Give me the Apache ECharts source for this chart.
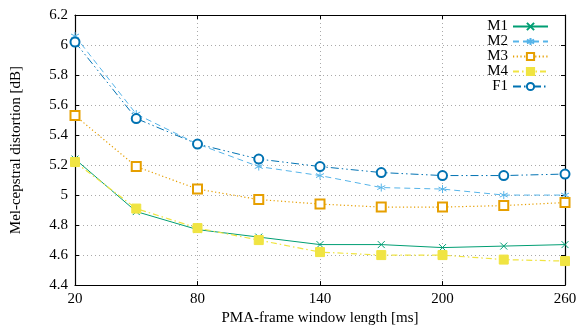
<!DOCTYPE html>
<html>
<head>
<meta charset="utf-8">
<script src="https://cdn.jsdelivr.net/npm/echarts@6/dist/echarts.min.js"></script>
<style>
  html, body { margin: 0; padding: 0; background: #fff; }
  #chart { width: 586px; height: 331px; }
</style>
</head>
<body>
<div id="chart"></div>
<script>
// window length [ms]
const windowLen = [20, 50, 80, 110, 140, 170, 200, 230, 260];

const m1 = [5.24, 4.89, 4.77, 4.72, 4.67, 4.67, 4.65, 4.66, 4.67];
const m2 = [6.06, 5.54, 5.34, 5.19, 5.13, 5.05, 5.04, 5.00, 5.00];
const m3 = [5.53, 5.19, 5.04, 4.97, 4.94, 4.92, 4.92, 4.93, 4.95];
const m4 = [5.22, 4.91, 4.78, 4.70, 4.62, 4.60, 4.60, 4.57, 4.56];
const f1 = [6.02, 5.51, 5.34, 5.24, 5.19, 5.15, 5.13, 5.13, 5.14];

const font = 'Liberation Serif';
const fs = 15;

const crossSym = 'path://M0,0L10,10M10,0L0,10';
const starSym = 'path://M5,0L5,10M0.7,2.5L9.3,7.5M0.7,7.5L9.3,2.5';

const mkSeries = (name, data, color, symbol, size, dash, width) => ({
    name: name,
    type: 'line',
    data: data,
    symbol: symbol,
    symbolSize: size,
    showAllSymbol: true,
    lineStyle: { color: color, width: width, type: dash },
    itemStyle: {
        color: color,
        borderColor: color,
        borderWidth: 1
    },
    emphasis: { disabled: true }
});

const option = {
    animation: false,
    textStyle: { fontFamily: font },
    grid: { left: 75, right: 21, top: 15, bottom: 41 },
    legend: {
        orient: 'vertical',
        right: 37,
        top: 19,
        align: 'right',
        padding: 0,
        itemGap: 0,
        itemWidth: 35,
        itemHeight: 9,
        textStyle: { fontFamily: font, fontSize: fs, color: '#000', lineHeight: 14 },
        data: ['M1', 'M2', 'M3', 'M4', 'F1']
    },
    xAxis: [
        {
            type: 'category',
            data: windowLen,
            boundaryGap: false,
            name: 'PMA-frame window length [ms]',
            nameLocation: 'middle',
            nameGap: 24,
            nameTextStyle: { fontFamily: font, fontSize: fs, color: '#000' },
            axisLine: { lineStyle: { color: '#000', width: 1.2 } },
            axisTick: { inside: true, length: 4, interval: 1, lineStyle: { color: '#000' } },
            axisLabel: { interval: 1, margin: 6, fontFamily: font, fontSize: fs, color: '#000' },
            splitLine: { show: true, interval: 1, lineStyle: { color: '#aaa', type: [1, 3] } }
        },
        {
            type: 'category',
            data: windowLen,
            boundaryGap: false,
            position: 'top',
            axisLine: { lineStyle: { color: '#000', width: 1.2 } },
            axisTick: { inside: true, length: 4, interval: 1, lineStyle: { color: '#000' } },
            axisLabel: { show: false },
            splitLine: { show: false }
        }
    ],
    yAxis: [
        {
            type: 'value',
            min: 4.4,
            max: 6.2,
            interval: 0.2,
            name: 'Mel-cepstral distortion [dB]',
            nameLocation: 'middle',
            nameGap: 51,
            nameTextStyle: { fontFamily: font, fontSize: fs, color: '#000' },
            axisLine: { show: true, lineStyle: { color: '#000', width: 1.2 } },
            axisTick: { show: true, inside: true, length: 4, lineStyle: { color: '#000' } },
            axisLabel: { margin: 7, fontFamily: font, fontSize: fs, color: '#000' },
            splitLine: { show: true, lineStyle: { color: '#aaa', type: [1, 3] } }
        },
        {
            type: 'value',
            min: 4.4,
            max: 6.2,
            interval: 0.2,
            position: 'right',
            axisLine: { show: true, lineStyle: { color: '#000', width: 1.2 } },
            axisTick: { show: true, inside: true, length: 4, lineStyle: { color: '#000' } },
            axisLabel: { show: false },
            splitLine: { show: false }
        }
    ],
    series: [
        mkSeries('M1', m1, '#009E73', crossSym, 7, 'solid', 1),
        mkSeries('M2', m2, '#56B4E9', starSym, 8, [6, 4], 1),
        mkSeries('M3', m3, '#E69F00', 'emptyRect', 9, [1.2, 2.5], 1.2),
        mkSeries('M4', m4, '#F0E442', 'rect', 9, [6, 3, 1.5, 3], 1.2),
        mkSeries('F1', f1, '#0072B2', 'emptyCircle', 9, [8, 3, 1.5, 3, 1.5, 3], 1)
    ]
};

const myChart = echarts.init(document.getElementById('chart'), null, { renderer: 'canvas' });
myChart.setOption(option);
</script>
</body>
</html>
